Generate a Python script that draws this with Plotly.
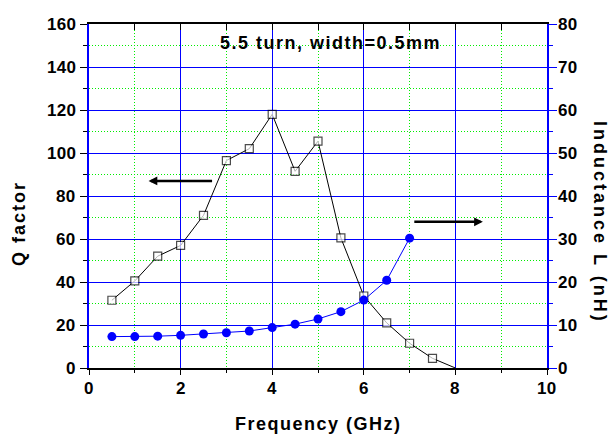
import plotly.graph_objects as go

freq = [0.5, 1.0, 1.5, 2.0, 2.5, 3.0, 3.5, 4.0, 4.5, 5.0, 5.5, 6.0, 6.5, 7.0, 7.5, 8.0]
q_factor = [31.5, 40.5, 52, 57, 71, 96.5, 102, 118, 91.5, 105.5, 60.5, 33.5, 21, 11.5, 4.5, 0]
freq_l = [0.5, 1.0, 1.5, 2.0, 2.5, 3.0, 3.5, 4.0, 4.5, 5.0, 5.5, 6.0, 6.5, 7.0]
inductance = [7.3, 7.3, 7.4, 7.6, 7.9, 8.2, 8.6, 9.4, 10.2, 11.4, 13.1, 15.8, 20.4, 30.2]

x_ticks = [0, 2, 4, 6, 8, 10]
q_ticks = [0, 20, 40, 60, 80, 100, 120, 140, 160]
l_ticks = [0, 10, 20, 30, 40, 50, 60, 70, 80]

FONT = "Liberation Sans"
BLUE = "#0000FF"
GREEN = "#00EE00"

fig = go.Figure()
fig.add_trace(go.Scatter(
    x=freq, y=q_factor, mode="lines+markers", xaxis="x", yaxis="y",
    line=dict(color="black", width=1),
    marker=dict(symbol="square", size=[8] * (len(freq) - 1) + [0], color="white",
                line=dict(color="black", width=1.2)),
    showlegend=False, cliponaxis=False))
fig.add_trace(go.Scatter(
    x=freq_l, y=inductance, mode="lines+markers", xaxis="x", yaxis="y2",
    line=dict(color=BLUE, width=1),
    marker=dict(symbol="circle", size=9, color=BLUE),
    showlegend=False, cliponaxis=False))
# helper trace so the top (mirror) axis is drawn
fig.add_trace(go.Scatter(x=[None], y=[None], xaxis="x2", yaxis="y", showlegend=False, hoverinfo="skip"))

griddash = "1px,2px"

fig.update_layout(
    width=609, height=435,
    margin=dict(l=89, r=62, t=24, b=67),
    paper_bgcolor="white", plot_bgcolor="white",
    xaxis=dict(range=[0, 10], tickmode="array", tickvals=x_ticks, showticklabels=False,
               ticks="outside", ticklen=5, tickwidth=1,
               tickcolor="black", showline=True, linecolor="black", linewidth=1.5,
               showgrid=True, gridcolor=BLUE, gridwidth=1, zeroline=False,
               minor=dict(dtick=1, tick0=0, ticks="outside", ticklen=3, tickcolor="black",
                          showgrid=True, gridcolor=GREEN, griddash=griddash, gridwidth=1)),
    xaxis2=dict(range=[0, 10], overlaying="x", side="top", anchor="y", dtick=1, tick0=0,
                ticks="inside", ticklen=6, tickcolor="black", showticklabels=False,
                showline=True, linecolor="black", linewidth=1.5, showgrid=False, zeroline=False),
    yaxis=dict(range=[0, 160], tickmode="array", tickvals=q_ticks, showticklabels=False,
               ticks="outside", ticklen=7, tickwidth=1,
               tickcolor="black", showline=True, linecolor=BLUE, linewidth=1.5,
               showgrid=True, gridcolor=BLUE, gridwidth=1, zeroline=False,
               minor=dict(dtick=10, tick0=0, ticks="outside", ticklen=4, tickcolor="black",
                          showgrid=True, gridcolor=GREEN, griddash=griddash, gridwidth=1)),
    yaxis2=dict(range=[0, 80], tickmode="array", tickvals=l_ticks, showticklabels=False,
                overlaying="y", side="right", anchor="x",
                ticks="outside", ticklen=8, tickwidth=1, tickcolor=BLUE,
                showline=True, linecolor=BLUE, linewidth=1.5, showgrid=False, zeroline=False,
                minor=dict(dtick=5, tick0=0, ticks="outside", ticklen=4, tickcolor=BLUE)),
)

tickfont = dict(family=FONT, size=17, color="black", weight="bold")


def lbl(v):
    return "<span style='letter-spacing:0.3px'><b>%d</b></span>" % v


for v in x_ticks:
    fig.add_annotation(text=lbl(v), x=v, xref="x", y=0, yref="paper", yshift=-20,
                       xanchor="center", yanchor="middle", showarrow=False, font=tickfont)
for v in q_ticks:
    fig.add_annotation(text=lbl(v), x=0, xref="paper", y=v, yref="y", xshift=-11,
                       xanchor="right", yanchor="middle", showarrow=False, font=tickfont)
for v in l_ticks:
    fig.add_annotation(text=lbl(v), x=1, xref="paper", y=v, yref="y2", xshift=9,
                       xanchor="left", yanchor="middle", showarrow=False, font=tickfont)

titlefont = dict(family=FONT, size=18, color="black", weight="bold")
fig.add_annotation(text="<span style='letter-spacing:1.5px'>5.5 turn, width=0.5mm</span>",
                   xref="paper", yref="paper", x=(330 - 89) / 458, y=(368 - 43) / 344,
                   showarrow=False, font=titlefont, xanchor="center", yanchor="middle")
fig.add_annotation(text="<span style='letter-spacing:1.5px'>Frequency (GHz)</span>",
                   xref="paper", yref="paper", x=(318 - 89) / 458, y=(368 - 424) / 344,
                   showarrow=False, font=titlefont, xanchor="center", yanchor="middle")
fig.add_annotation(text="<span style='letter-spacing:2px'>Q factor</span>",
                   xref="paper", yref="paper", x=(18.5 - 89) / 458, y=(368 - 223.5) / 344,
                   showarrow=False, font=titlefont, textangle=-90,
                   xanchor="center", yanchor="middle")
fig.add_annotation(text="<span style='letter-spacing:3px'>Inductance L (nH)</span>",
                   xref="paper", yref="paper", x=(600 - 89) / 458, y=(368 - 222) / 344,
                   showarrow=False, font=titlefont, textangle=90,
                   xanchor="center", yanchor="middle")

# arrows
fig.add_annotation(x=1.3, y=87, ax=2.72, ay=87, xref="x", yref="y", axref="x", ayref="y",
                   text="", showarrow=True, arrowhead=2, arrowsize=0.7, arrowwidth=2.5,
                   arrowcolor="black")
fig.add_annotation(x=8.6, y=68, ax=7.07, ay=68, xref="x", yref="y", axref="x", ayref="y",
                   text="", showarrow=True, arrowhead=2, arrowsize=0.7, arrowwidth=2.5,
                   arrowcolor="black")

fig.write_html("out.html")
